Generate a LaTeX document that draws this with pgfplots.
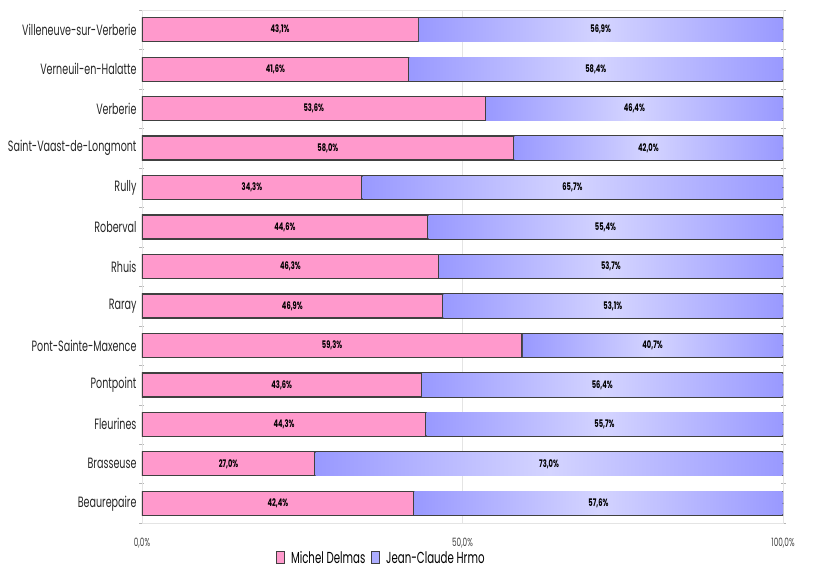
\documentclass[border=0pt]{standalone}
\usepackage{pgfplots}
\usepackage{pgfplotstable}
\pgfplotsset{compat=1.18}
\usepackage{fontspec}
\setmainfont{Poppins}[FakeStretch=0.64]

\definecolor{rose}{HTML}{FF99CC}
\definecolor{bleuA}{HTML}{9999FF}
\definecolor{bleuB}{HTML}{D4D4FF}
\definecolor{bord}{HTML}{404040}
\definecolor{grille}{HTML}{E4E4E4}

% y = rang de la commune, a = Michel Delmas, b = Jean-Claude Hrmo
\pgfplotstableread{
y a b
0 42.4 57.6
1 27.0 73.0
2 44.3 55.7
3 43.6 56.4
4 59.3 40.7
5 46.9 53.1
6 46.3 53.7
7 44.6 55.4
8 34.3 65.7
9 58.0 42.0
10 53.6 46.4
11 41.6 58.4
12 43.1 56.9
}\resultats

\pgfplotsset{
    cadre/.style={
        scale only axis,
        width=641bp,
        height=513bp,
        xmin=0, xmax=100,
        ymin=-0.5, ymax=12.5,
        /pgf/number format/assume math mode=true,
    },
}

\begin{document}
\begin{tikzpicture}
\useasboundingbox (-142bp,-46bp) rectangle (672bp,523bp);
\begin{axis}[
    cadre,
    xbar stacked,
    bar width=24bp,
    xtick={0,50,100},
    xticklabel={\pgfmathprintnumber[fixed,fixed zerofill,precision=1,use comma]{\tick}\%},
    ytick={0,...,12},
    yticklabels={Beaurepaire,Brasseuse,Fleurines,Pontpoint,Pont-Sainte-Maxence,Raray,Rhuis,Roberval,Rully,Saint-Vaast-de-Longmont,Verberie,Verneuil-en-Halatte,Villeneuve-sur-Verberie},
    minor ytick={-0.5,0.5,...,12.5},
    major tick length=0pt,
    minor tick length=5bp,
    tick align=center,
    minor tick style={grille!80!black},
    xmajorgrids,
    major grid style={grille},
    axis line style={grille},
    xticklabel style={font=\fontsize{11.5}{13}\selectfont, text=black!75, yshift=-12bp},
    yticklabel style={font=\fontsize{15}{17}\selectfont, text=black!85, xshift=-2bp},
    legend columns=2,
    legend style={draw=none, fill=none, at={(0.2044,-0.068)}, anchor=west,
        font=\fontsize{16}{18}\selectfont, column sep=4bp,
        /tikz/every even column/.append style={column sep=4bp}},
    legend image code/.code={\draw[#1, line width=0.8bp] (0bp,-6bp) rectangle (8bp,6bp);},
]
\addplot[fill=rose, draw=bord, line width=1.3bp] table[x=a, y=y] {\resultats};
\addlegendentry{Michel Delmas}
\addplot[fill=bleuA!80, draw=bord, line width=1.3bp] table[x=b, y=y] {\resultats};
\addlegendentry{Jean-Claude Hrmo}
\end{axis}

% degrade des barres bleues et etiquettes, poses au bout de chaque barre (100 %)
\begin{axis}[cadre, hide axis, clip=false]
\addplot[only marks, mark=*, mark size=0.1pt, draw=none, fill=none, scatter,
    visualization depends on={\thisrow{a} \as \va},
    visualization depends on={\thisrow{b} \as \vb},
    scatter/@pre marker code/.code={%
        \pgfmathsetmacro\longueur{\vb*6.41-0.65}%
        \shade[left color=bleuA, right color=bleuA, middle color=bleuB]
            (-\longueur bp,-11.35bp) rectangle (-0.65bp,11.35bp);
        \pgfmathsetmacro\posb{-\vb*3.205}%
        \pgfmathsetmacro\posa{-(\vb+\va/2)*6.41}%
        \node[font=\bfseries\fontsize{10.5}{12}\selectfont, text=black] at (\posb bp,0bp)
            {\pgfmathprintnumber[fixed,fixed zerofill,precision=1,use comma]{\vb}\%};
        \node[font=\bfseries\fontsize{10.5}{12}\selectfont, text=black] at (\posa bp,0bp)
            {\pgfmathprintnumber[fixed,fixed zerofill,precision=1,use comma]{\va}\%};
    },
    scatter/@post marker code/.code={},
] table[x expr=100, y=y] {\resultats};
\end{axis}
\end{tikzpicture}
\end{document}
